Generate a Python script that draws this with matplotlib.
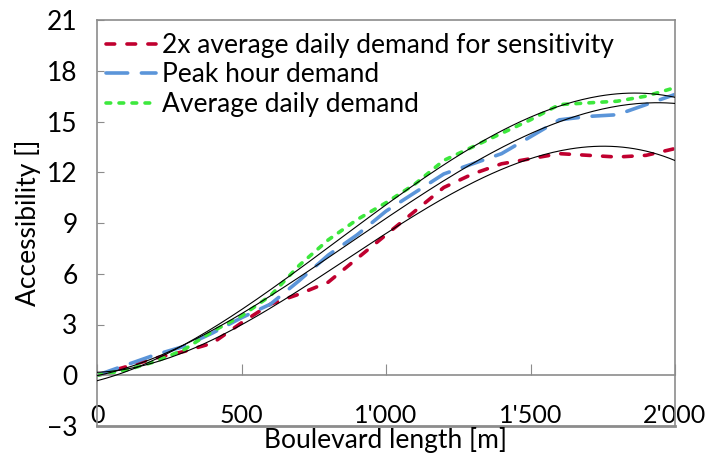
import numpy as np
import matplotlib
matplotlib.use("Agg")
import matplotlib.pyplot as plt

# boulevard length [m], one sample every 100 m
length_m = [0, 100, 200, 300, 400, 500, 600, 700, 800, 900, 1000,
            1100, 1200, 1300, 1400, 1500, 1600, 1700, 1800, 1900, 2000]

sens_2x = [0.0, 0.5, 1.0, 1.4, 1.9, 3.1, 4.2, 4.8, 5.5, 6.9, 8.3,
           9.7, 11.1, 11.9, 12.5, 12.8, 13.1, 13.0, 12.9, 13.0, 13.4]
peak_hour = [0.0, 0.6, 1.2, 1.7, 2.5, 3.4, 4.2, 5.6, 7.1, 8.3, 9.7,
             10.8, 11.9, 12.5, 13.1, 14.1, 15.1, 15.3, 15.4, 16.0, 16.6]
avg_daily = [0.0, 0.3, 0.8, 1.5, 2.6, 3.5, 4.7, 6.5, 8.0, 9.2, 10.2,
             11.3, 12.7, 13.5, 14.3, 15.1, 16.0, 16.1, 16.2, 16.5, 17.0]

labels = ["2x average daily demand for sensitivity",
          "Peak hour demand",
          "Average daily demand"]
xticks = [0, 500, 1000, 1500, 2000]
xticklabels = ["0", "500", "1'000", "1'500", "2'000"]
yticks = list(range(-3, 22, 3))

plt.rcParams['font.family'] = ['Lato', 'DejaVu Sans']
fs = 19
grey = '#8c8c8c'

fig = plt.figure(figsize=(7.06, 4.59), dpi=100)
ax = fig.add_axes([97 / 706, 33 / 459, 578 / 706, 406 / 459])

series = [
    (sens_2x, '#c0002f', (2.4, 3.4)),
    (peak_hour, '#5b95d9', (6.0, 3.8)),
    (avg_daily, '#3de83d', (1.3, 2.3)),
]
x = np.array(length_m, dtype=float)
for (y, col, dash), lab in zip(series, labels):
    ax.plot(x, y, color=col, lw=2.6, dashes=dash, dash_capstyle='round',
            label=lab, zorder=2)

# cubic trendlines fitted to each series
xs = np.linspace(0, 2000, 200)
for y, col, dash in series:
    coef = np.polyfit(x, y, 3)
    ax.plot(xs, np.polyval(coef, xs), color='black', lw=0.8, zorder=3)

ax.set_xlim(0, 2000)
ax.set_ylim(-3, 21)

for s in ['top', 'right', 'left', 'bottom']:
    ax.spines[s].set_color(grey)
    ax.spines[s].set_linewidth(1.2)
# x axis runs along the zero line, box closed at -3
ax.spines['bottom'].set_position(('data', 0))
ax.axhline(-3, color=grey, lw=2.0, zorder=1, clip_on=False)

ax.set_yticks(yticks)
ax.set_xticks(xticks)
ax.set_xticklabels(xticklabels)
ax.tick_params(axis='y', direction='in', length=5, color=grey, labelsize=fs, pad=14)
ax.tick_params(axis='x', direction='in', length=8, color=grey, labelsize=18, pad=21)

ax.set_xlabel("Boulevard length [m]", fontsize=fs, labelpad=0)
ax.set_ylabel("Accessibility []", fontsize=fs, labelpad=4)

ax.legend(loc='upper left', bbox_to_anchor=(0.015, 0.968), frameon=False,
          fontsize=fs, handlelength=1.9, handletextpad=0.25, labelspacing=0.17,
          borderpad=0, borderaxespad=0)

fig.savefig("out.png", dpi=100)
